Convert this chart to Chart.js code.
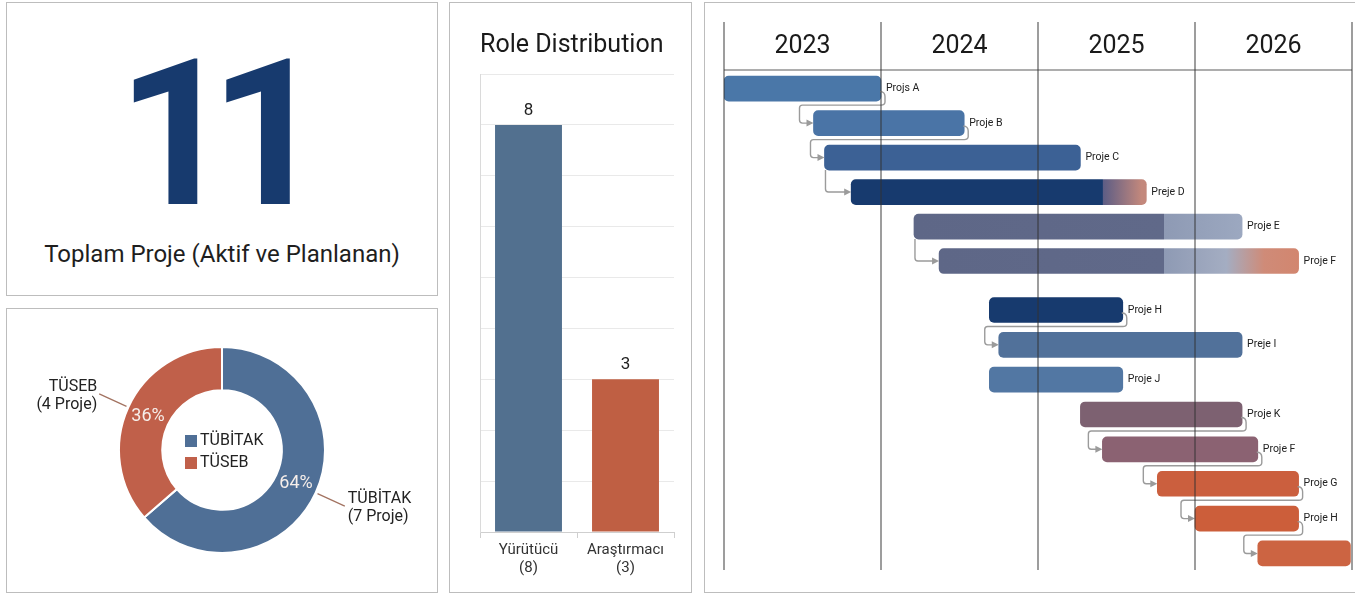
<!DOCTYPE html>
<html>
<head>
<meta charset="utf-8">
<script src="https://cdn.jsdelivr.net/npm/chart.js@4.4.1/dist/chart.umd.min.js"></script>
<style>
    html, body { margin: 0; padding: 0; background: #fff; }
    body { position: relative; width: 1355px; height: 595px; overflow: hidden; font-family: Roboto, sans-serif; }
    .panel { position: absolute; box-sizing: border-box; border: 1.5px solid #bdbdbd; background: #fff; }
    canvas { position: absolute; }
    #bigNum { position: absolute; left: 117px; top: 32px; white-space: nowrap;
              font-family: Roboto, sans-serif; font-weight: 700; font-size: 205px; line-height: 1;
              color: #173a6e; letter-spacing: -25px; }
    #bigLabel { position: absolute; left: 6px; width: 432px; top: 242px; text-align: center;
                font-family: Roboto, sans-serif; font-size: 24px; line-height: 1; color: #1e1e1e; }
</style>
</head>
<body>
<div class="panel" style="left:6px;top:2px;width:432px;height:294px;"></div>
<div class="panel" style="left:6px;top:308px;width:432px;height:285px;"></div>
<div class="panel" style="left:449px;top:2px;width:243px;height:591px;"></div>
<div class="panel" style="left:704px;top:2px;width:655px;height:591px;"></div>

<div id="bigNum"></div>
<div id="bigLabel">Toplam Proje (Aktif ve Planlanan)</div>

<canvas id="fundChart" width="432" height="285" style="left:6px;top:308px;"></canvas>
<canvas id="roleChart" width="243" height="591" style="left:449px;top:2px;"></canvas>
<canvas id="ganttChart" width="651" height="591" style="left:704px;top:2px;"></canvas>

<script>
// --- veriler ---
const totalProjects = 11;

const fundLabels = ['TÜBİTAK', 'TÜSEB'];
const fundCounts = [7, 4];

const roleLabels = [['Yürütücü', '(8)'], ['Araştırmacı', '(3)']];
const roleCounts = [8, 3];

const years = [2023, 2024, 2025, 2026, 2027];
const projeNames = ['Projs A', 'Proje B', 'Proje C', 'Preje D', 'Proje E', 'Proje F', 'Proje H',
                    'Preje I', 'Proje J', 'Proje K', 'Proje F', 'Proje G', 'Proje H', ''];
const projeStart = [2023.00, 2023.57, 2023.64, 2023.81, 2024.21, 2024.37, 2024.69,
                    2024.75, 2024.69, 2025.27, 2025.41, 2025.76, 2026.00, 2026.40];
const projeEnd   = [2024.00, 2024.53, 2025.27, 2025.69, 2026.30, 2026.66, 2025.54,
                    2026.30, 2025.54, 2026.30, 2026.40, 2026.66, 2026.66, 2026.99];
const projeRow   = [0, 1, 2, 3, 4, 5, 6.42, 7.43, 8.44, 9.45, 10.46, 11.46, 12.47, 13.48];
// bağımlılıklar: [önceki, sonraki, çıkış noktası]
const links = [[0, 1, 'end'], [1, 2, 'end'], [2, 3, 'start'], [4, 5, 'start'], [6, 7, 'end'],
               [9, 10, 'end'], [10, 11, 'end'], [11, 12, 'end'], [12, 13, 'end']];

// --- renkler ---
const fundColors = ['#4f6f96', '#c0604a'];
const roleColors = ['#52708f', '#bf5f43'];
const barColors = ['#4a77a8', '#4a74a6', '#3c6195', '#173a6e', '#5e6787', '#5e6787', '#173a6e',
                   '#51719a', '#5277a3', '#7d6171', '#8b6272', '#cb5f3e', '#cc5e3a', '#cc6442'];
const barGradients = {
    3: [[2023.81, '#173a6e'], [2025.41, '#173a6e'], [2025.415, '#5d5d85'], [2025.66, '#c3887c'], [2025.69, '#c3887c']],
    4: [[2024.21, '#5e6787'], [2025.80, '#606989'], [2025.805, '#8e9ab4'], [2026.30, '#9ca8c0']],
    5: [[2024.37, '#5e6787'], [2025.80, '#606989'], [2025.805, '#8e9ab4'], [2026.20, '#a4adc2'], [2026.44, '#cf8b78'], [2026.66, '#d2866f']]
};

document.getElementById('bigNum').textContent = String(totalProjects);

// ---------- Doughnut ----------
const donutLabels = {
    id: 'donutLabels',
    afterDraw(chart) {
        const ctx = chart.ctx;
        const meta = chart.getDatasetMeta(0);
        const total = fundCounts.reduce((a, b) => a + b, 0);
        let cx = 0, cy = 0;
        meta.data.forEach((arc, i) => {
            const p = arc.getProps(['x', 'y', 'startAngle', 'endAngle', 'innerRadius', 'outerRadius'], true);
            cx = p.x; cy = p.y;
            const mid = (p.startAngle + p.endAngle) / 2;
            const cos = Math.cos(mid), sin = Math.sin(mid);
            const rMid = (p.innerRadius + p.outerRadius) / 2;

            ctx.save();
            ctx.font = '18px Roboto';
            ctx.fillStyle = '#f6eeea';
            ctx.textAlign = 'center';
            ctx.textBaseline = 'middle';
            ctx.fillText(Math.round(fundCounts[i] / total * 100) + '%', p.x + cos * rMid, p.y + sin * rMid);

            const r1 = p.outerRadius + 2, r2 = p.outerRadius + 32;
            const ex = p.x + cos * r2, ey = p.y + sin * r2;
            ctx.strokeStyle = '#a27260';
            ctx.lineWidth = 1.2;
            ctx.beginPath();
            ctx.moveTo(p.x + cos * r1, p.y + sin * r1);
            ctx.lineTo(ex, ey);
            ctx.stroke();

            const right = cos >= 0;
            ctx.font = '16px Roboto';
            ctx.fillStyle = '#222';
            ctx.textAlign = right ? 'left' : 'right';
            const tx = ex + (right ? 3 : -2);
            ctx.fillText(fundLabels[i], tx, ey - 7);
            ctx.fillText('(' + fundCounts[i] + ' Proje)', tx, ey + 11);
            ctx.restore();
        });

        // ortadaki lejant
        ctx.save();
        ctx.font = '16px Roboto';
        ctx.textBaseline = 'middle';
        ctx.textAlign = 'left';
        fundLabels.forEach((lab, i) => {
            const yy = cy - 9 + i * 22;
            ctx.fillStyle = fundColors[i];
            ctx.fillRect(cx - 37, yy - 6, 12, 12);
            ctx.fillStyle = '#222';
            ctx.fillText(lab, cx - 22, yy);
        });
        ctx.restore();
    }
};

new Chart(document.getElementById('fundChart'), {
    type: 'doughnut',
    data: {
        labels: fundLabels,
        datasets: [{
            data: fundCounts,
            backgroundColor: fundColors,
            borderColor: '#ffffff',
            borderWidth: 2
        }]
    },
    options: {
        responsive: false,
        animation: false,
        cutout: '58%',
        layout: { padding: { left: 112, right: 112, top: 38, bottom: 39 } },
        plugins: { legend: { display: false }, tooltip: { enabled: false } }
    },
    plugins: [donutLabels]
});

// ---------- Role bar chart ----------
const barValueLabels = {
    id: 'barValueLabels',
    afterDatasetsDraw(chart) {
        const ctx = chart.ctx;
        ctx.save();
        ctx.font = '17px Roboto';
        ctx.fillStyle = '#222';
        ctx.textAlign = 'center';
        ctx.textBaseline = 'bottom';
        chart.getDatasetMeta(0).data.forEach((bar, i) => {
            ctx.fillText(String(roleCounts[i]), bar.x, bar.y - 6);
        });
        ctx.restore();
    }
};

new Chart(document.getElementById('roleChart'), {
    type: 'bar',
    data: {
        labels: roleLabels,
        datasets: [{
            data: roleCounts,
            backgroundColor: roleColors,
            barPercentage: 0.69,
            categoryPercentage: 1
        }]
    },
    options: {
        responsive: false,
        animation: false,
        layout: { padding: { left: 31, right: 18, top: 0, bottom: 13 } },
        plugins: {
            legend: { display: false },
            tooltip: { enabled: false },
            title: {
                display: true,
                text: 'Role Distribution',
                align: 'start',
                color: '#1a1a1a',
                font: { family: 'Roboto', size: 25, weight: 'normal' },
                padding: { top: 29, bottom: 13 }
            }
        },
        scales: {
            x: {
                grid: { display: true, drawOnChartArea: false, drawTicks: true, tickLength: 6, color: '#cfcfcf' },
                border: { display: true, color: '#cfcfcf' },
                ticks: { color: '#333', font: { family: 'Roboto', size: 15 }, padding: 3 }
            },
            y: {
                min: 0,
                max: 9,
                ticks: { stepSize: 1, display: false },
                grid: { color: '#e9e9e9', drawTicks: false },
                border: { display: true, color: '#dadada' }
            }
        }
    },
    plugins: [barValueLabels]
});

// ---------- Gantt ----------
function ganttFill(c) {
    const i = c.dataIndex;
    const chart = c.chart;
    const stops = barGradients[i];
    if (!stops || !chart.chartArea) return barColors[i];
    const xs = chart.scales.x;
    const x0 = xs.getPixelForValue(projeStart[i]);
    const x1 = xs.getPixelForValue(projeEnd[i]);
    const g = chart.ctx.createLinearGradient(x0, 0, x1, 0);
    stops.forEach(([yr, col]) => {
        const t = (xs.getPixelForValue(yr) - x0) / (x1 - x0);
        g.addColorStop(Math.min(1, Math.max(0, t)), col);
    });
    return g;
}

const ganttDecor = {
    id: 'ganttDecor',
    afterDatasetsDraw(chart) {
        const ctx = chart.ctx;
        const xs = chart.scales.x, ys = chart.scales.y;
        const area = chart.chartArea;
        const half = 12.5;

        // bağlantı okları
        ctx.save();
        ctx.strokeStyle = '#9b9b9b';
        ctx.fillStyle = '#9b9b9b';
        ctx.lineWidth = 1.4;
        ctx.lineJoin = 'round';
        links.forEach(([a, b, mode]) => {
            const ay = ys.getPixelForValue(projeRow[a]);
            const by = ys.getPixelForValue(projeRow[b]);
            const bx = xs.getPixelForValue(projeStart[b]);
            ctx.beginPath();
            if (mode === 'end') {
                const ax = xs.getPixelForValue(projeEnd[a]);
                const gy = ay + half + 4;
                const xl = bx - 14;
                ctx.moveTo(ax - 1, ay + 3);
                ctx.quadraticCurveTo(ax + 4, ay + 3, ax + 4, ay + 8);
                ctx.lineTo(ax + 4, gy - 3);
                ctx.quadraticCurveTo(ax + 4, gy, ax, gy);
                ctx.lineTo(xl + 3, gy);
                ctx.quadraticCurveTo(xl, gy, xl, gy + 3);
                ctx.lineTo(xl, by - 3);
                ctx.quadraticCurveTo(xl, by, xl + 3, by);
                ctx.lineTo(bx - 6, by);
            } else {
                const ax = xs.getPixelForValue(projeStart[a]) + 1;
                ctx.moveTo(ax, ay + half);
                ctx.lineTo(ax, by - 3);
                ctx.quadraticCurveTo(ax, by, ax + 3, by);
                ctx.lineTo(bx - 6, by);
            }
            ctx.stroke();
            ctx.beginPath();
            ctx.moveTo(bx, by);
            ctx.lineTo(bx - 7, by - 3.5);
            ctx.lineTo(bx - 7, by + 3.5);
            ctx.closePath();
            ctx.fill();
        });
        ctx.restore();

        // yıl çizgileri ve başlık
        ctx.save();
        ctx.strokeStyle = 'rgba(50,50,50,0.8)';
        ctx.lineWidth = 1.2;
        years.forEach(yr => {
            const x = xs.getPixelForValue(yr);
            ctx.beginPath();
            ctx.moveTo(x, 20);
            ctx.lineTo(x, area.bottom);
            ctx.stroke();
        });
        ctx.beginPath();
        ctx.moveTo(xs.getPixelForValue(years[0]), area.top);
        ctx.lineTo(xs.getPixelForValue(years[years.length - 1]), area.top);
        ctx.stroke();

        ctx.font = '25px Roboto';
        ctx.fillStyle = '#1a1a1a';
        ctx.textAlign = 'center';
        ctx.textBaseline = 'middle';
        years.slice(0, -1).forEach(yr => {
            const x = (xs.getPixelForValue(yr) + xs.getPixelForValue(yr + 1)) / 2;
            ctx.fillText(String(yr), x, 45);
        });

        // proje etiketleri
        ctx.font = '10.5px Roboto';
        ctx.fillStyle = '#222';
        ctx.textAlign = 'left';
        projeNames.forEach((name, i) => {
            if (!name) return;
            ctx.fillText(name, xs.getPixelForValue(projeEnd[i]) + 5, ys.getPixelForValue(projeRow[i]));
        });
        ctx.restore();
    }
};

new Chart(document.getElementById('ganttChart'), {
    type: 'bar',
    data: {
        datasets: [{
            data: projeStart.map((s, i) => ({ x: [s, projeEnd[i]], y: projeRow[i] })),
            backgroundColor: ganttFill,
            borderRadius: 5,
            borderSkipped: false,
            barThickness: 25
        }]
    },
    options: {
        responsive: false,
        animation: false,
        indexAxis: 'y',
        layout: { padding: { left: 20, right: 3, top: 68, bottom: 23 } },
        plugins: { legend: { display: false }, tooltip: { enabled: false } },
        scales: {
            x: { type: 'linear', min: 2023, max: 2027, display: false },
            y: { type: 'linear', min: -0.54, max: 13.96, reverse: true, offset: false, display: false }
        }
    },
    plugins: [ganttDecor]
});
</script>
</body>
</html>
